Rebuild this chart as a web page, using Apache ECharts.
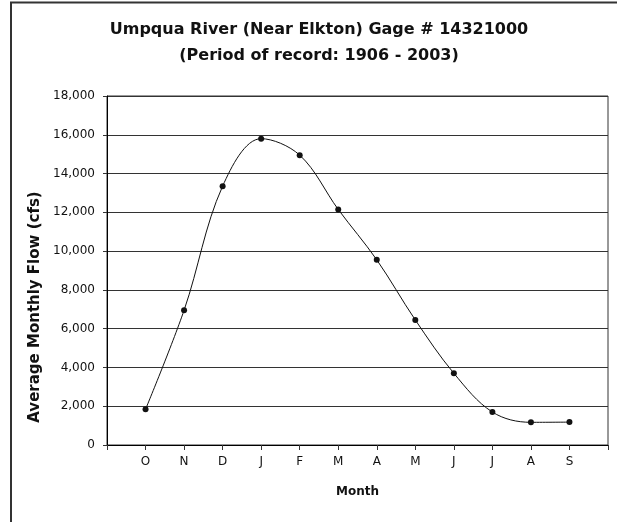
<!DOCTYPE html>
<html>
<head>
<meta charset="utf-8">
<script src="https://cdn.jsdelivr.net/npm/echarts@6/dist/echarts.min.js"></script>
<style>
  html, body { margin: 0; padding: 0; background: #fff; }
  #chart { width: 617px; height: 522px; }
</style>
</head>
<body>
<div id="chart"></div>
<script>
// months Oct..Sep (water year)
const months = ['O', 'N', 'D', 'J', 'F', 'M', 'A', 'M', 'J', 'J', 'A', 'S']
const flows = [1840, 6950, 13350, 15800, 14950, 12150, 9550, 6450, 3700, 1700, 1170, 1180]
const yTicks = { min: 0, max: 18000, step: 2000 }

const font = 'DejaVu Sans'
const chart = echarts.init(document.getElementById('chart'), null, { renderer: 'canvas' })

const option = {
  animation: false,
  backgroundColor: '#fff',
  grid: {
    left: 107, right: 9, top: 96, bottom: 77,
    show: true, borderColor: '#333', borderWidth: 1
  },
  xAxis: {
    type: 'value', min: 0, max: months.length + 1, interval: 1,
    name: 'Month', nameLocation: 'middle', nameGap: 41,
    nameTextStyle: { fontFamily: font, fontSize: 12, fontWeight: 'bold', color: '#111' },
    axisLine: { show: true, lineStyle: { color: '#000', width: 1 } },
    axisTick: { show: true, length: 5, lineStyle: { color: '#333' } },
    axisLabel: {
      margin: 11, fontFamily: font, fontSize: 12, color: '#111',
      formatter: v => months[v - 1] || ''
    },
    splitLine: { show: false }
  },
  yAxis: {
    type: 'value', min: yTicks.min, max: yTicks.max, interval: yTicks.step,
    axisLine: { show: true, lineStyle: { color: '#000', width: 1 } },
    axisTick: { show: true, length: 4, lineStyle: { color: '#333' } },
    axisLabel: {
      margin: 12, fontFamily: font, fontSize: 12, color: '#111',
      formatter: v => v.toLocaleString('en-US')
    },
    splitLine: { show: true, lineStyle: { color: '#333', width: 1 } }
  },
  series: [{
    type: 'line',
    data: flows.map((v, i) => [i + 1, v]),
    smooth: 0.35,
    symbol: 'circle', symbolSize: 6,
    lineStyle: { color: '#111', width: 1 },
    itemStyle: { color: '#111' }
  }],
  graphic: [
    {
      type: 'polyline', silent: true,
      shape: { points: [[11, 522], [11, 2.5], [617, 2.5]] },
      style: { stroke: '#333', lineWidth: 2, fill: null }
    },
    {
      type: 'text', x: 319, y: 30,
      style: {
        text: 'Umpqua River (Near Elkton) Gage # 14321000',
        font: 'bold 16px ' + font, fill: '#111',
        textAlign: 'center', textVerticalAlign: 'middle'
      }
    },
    {
      type: 'text', x: 319, y: 56,
      style: {
        text: '(Period of record: 1906 - 2003)',
        font: 'bold 16px ' + font, fill: '#111',
        textAlign: 'center', textVerticalAlign: 'middle'
      }
    },
    {
      type: 'text', x: 35, y: 307, rotation: Math.PI / 2,
      style: {
        text: 'Average Monthly Flow (cfs)',
        font: 'bold 15px ' + font, fill: '#111',
        textAlign: 'center', textVerticalAlign: 'middle'
      }
    }
  ]
}

chart.setOption(option)
window.addEventListener('resize', () => chart.resize())
</script>
</body>
</html>
